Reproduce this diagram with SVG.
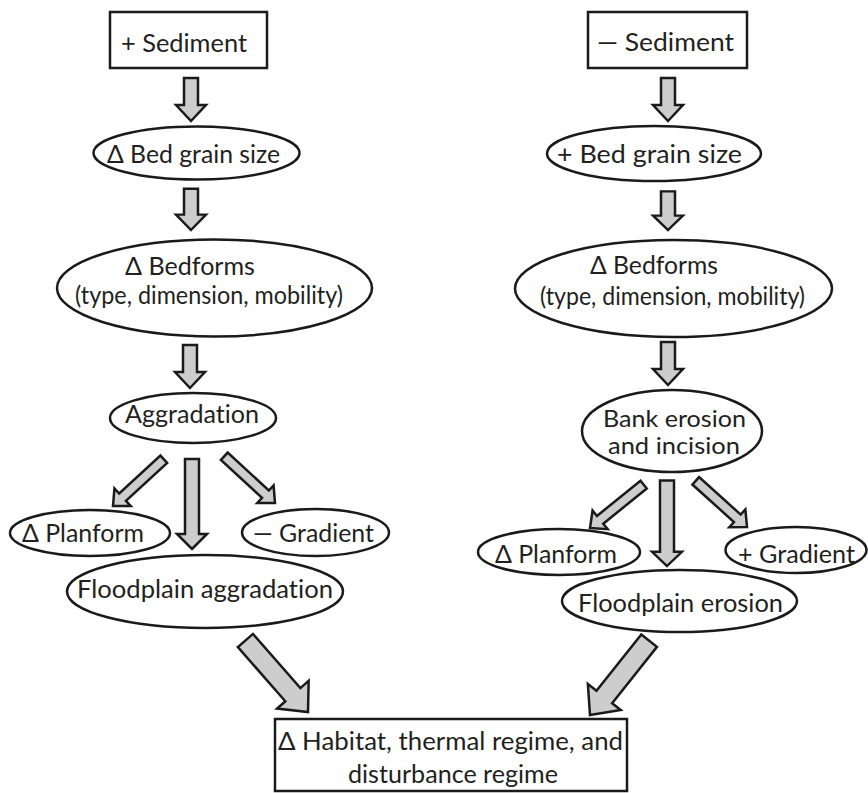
<svg xmlns="http://www.w3.org/2000/svg" xmlns:xlink="http://www.w3.org/1999/xlink" width="868" height="793" viewBox="0 0 868 793">
<style>
.box{fill:#fff;stroke:#1a1a1a;stroke-width:2.5}
.ell{fill:#fff;stroke:#1a1a1a;stroke-width:2.5}
.arr{fill:#cdcdcd;stroke:#1a1a1a;stroke-width:2.5;stroke-linejoin:miter}
text{font-family:Lato,"Open Sans","DejaVu Sans",sans-serif;font-size:25.5px;fill:#231f20;font-variant-ligatures:none}
.sm{font-size:23px}
</style>
<defs>
<polygon id="vA" class="arr" points="0,0 -16,-15 -16,-7 -43,-7 -43,7 -16,7 -16,15"/>
<polygon id="mA" class="arr" points="0,0 -15,-15 -15,-7 -90,-7 -90,7 -15,7 -15,15"/>
<polygon id="dA" class="arr" points="0,0 -13,-12 -13,-5 -69,-5 -69,5 -13,5 -13,12"/>
<polygon id="bA" class="arr" points="0,0 -23,-21 -23,-10 -95,-10 -95,10 -23,10 -23,21"/>
</defs>
<rect width="868" height="793" fill="#fff"/>
<g id="connectors">
<use xlink:href="#vA" transform="translate(191,121) rotate(90)"/>
<use xlink:href="#vA" transform="translate(191,230) rotate(90) scale(0.96,1)"/>
<use xlink:href="#vA" transform="translate(190,388) rotate(90)"/>
<use xlink:href="#vA" transform="translate(668,121) rotate(90)"/>
<use xlink:href="#vA" transform="translate(668,230) rotate(90) scale(0.9,1)"/>
<use xlink:href="#vA" transform="translate(668,385) rotate(90)"/>
<use xlink:href="#mA" transform="translate(192,549) rotate(90)"/>
<use xlink:href="#mA" transform="translate(667,566) rotate(90) scale(0.95,1)"/>
<use xlink:href="#dA" transform="translate(113,506) rotate(137.4)"/>
<use xlink:href="#dA" transform="translate(275,503) rotate(42.7)"/>
<use xlink:href="#dA" transform="translate(590,528) rotate(141)"/>
<use xlink:href="#dA" transform="translate(747,527) rotate(42)"/>
<use xlink:href="#bA" transform="translate(308,712) rotate(48.8)"/>
<use xlink:href="#bA" transform="translate(590,715) rotate(128.5)"/>
</g>
<g id="plus-sediment"><rect class="box" x="110" y="12" width="157" height="56"/><text x="121" y="52" textLength="126" lengthAdjust="spacingAndGlyphs">+ Sediment</text></g>
<g id="minus-sediment"><rect class="box" x="588" y="12" width="159" height="56"/><text x="597" y="51" textLength="137" lengthAdjust="spacingAndGlyphs">— Sediment</text></g>
<g id="bed-grain-left"><ellipse class="ell" cx="196.5" cy="153" rx="103" ry="26.5"/><text x="107" y="163" textLength="173" lengthAdjust="spacingAndGlyphs">Δ Bed grain size</text></g>
<g id="bed-grain-right"><ellipse class="ell" cx="654" cy="153.5" rx="107" ry="27.5"/><text x="557" y="163" textLength="185" lengthAdjust="spacingAndGlyphs">+ Bed grain size</text></g>
<g id="bedforms-left"><ellipse class="ell" cx="214.5" cy="288" rx="157.5" ry="48.5"/><text x="125" y="275" textLength="130" lengthAdjust="spacingAndGlyphs">Δ Bedforms</text><text x="75" y="304" textLength="268" lengthAdjust="spacingAndGlyphs">(type, dimension, mobility)</text></g>
<g id="bedforms-right"><ellipse class="ell" cx="673.5" cy="288.5" rx="158.5" ry="48.5"/><text x="590" y="274" textLength="128" lengthAdjust="spacingAndGlyphs">Δ Bedforms</text><text x="540" y="305" textLength="265" lengthAdjust="spacingAndGlyphs">(type, dimension, mobility)</text></g>
<g id="aggradation"><ellipse class="ell" cx="193" cy="418" rx="83" ry="25"/><text x="125" y="422.5" textLength="134" lengthAdjust="spacingAndGlyphs">Aggradation</text></g>
<g id="bank-erosion"><ellipse class="ell" cx="672" cy="431" rx="90" ry="41"/><text class="sm" x="603" y="426.5" textLength="143" lengthAdjust="spacingAndGlyphs">Bank erosion</text><text class="sm" x="608" y="454" textLength="132" lengthAdjust="spacingAndGlyphs">and incision</text></g>
<g id="planform-left"><ellipse class="ell" cx="90" cy="533" rx="80" ry="23"/><text x="22" y="541.5" textLength="122" lengthAdjust="spacingAndGlyphs">Δ Planform</text></g>
<g id="gradient-minus"><ellipse class="ell" cx="315.5" cy="532.5" rx="73.5" ry="23.5"/><text x="253" y="541.5" textLength="121" lengthAdjust="spacingAndGlyphs">— Gradient</text></g>
<g id="floodplain-aggradation"><ellipse class="ell" cx="205" cy="591.5" rx="138" ry="36.5"/><text x="77" y="598" textLength="256" lengthAdjust="spacingAndGlyphs">Floodplain aggradation</text></g>
<g id="planform-right"><ellipse class="ell" cx="559" cy="552" rx="81" ry="23"/><text x="495" y="563" textLength="122" lengthAdjust="spacingAndGlyphs">Δ Planform</text></g>
<g id="gradient-plus"><ellipse class="ell" cx="796" cy="550" rx="70.5" ry="23"/><text x="738" y="563" textLength="117" lengthAdjust="spacingAndGlyphs">+ Gradient</text></g>
<g id="floodplain-erosion"><ellipse class="ell" cx="679.5" cy="601" rx="117.5" ry="31"/><text x="578" y="612" textLength="205" lengthAdjust="spacingAndGlyphs">Floodplain erosion</text></g>
<g id="habitat"><rect class="box" x="275" y="719" width="352" height="72"/><text x="278" y="750" textLength="345" lengthAdjust="spacingAndGlyphs">Δ Habitat, thermal regime, and</text><text x="348" y="783" textLength="210" lengthAdjust="spacingAndGlyphs">disturbance regime</text></g>
</svg>
